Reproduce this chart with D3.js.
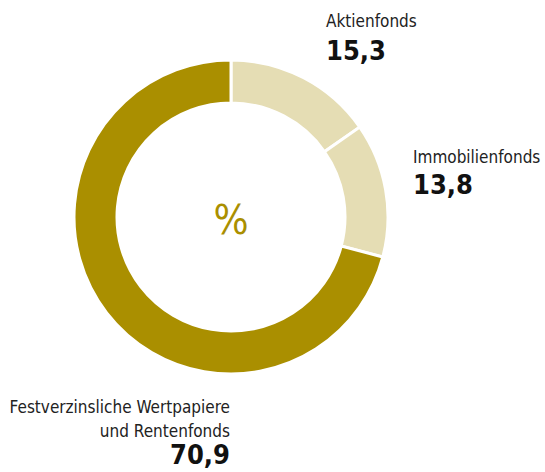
<!DOCTYPE html>
<html>
<head>
<meta charset="utf-8">
<script src="https://cdn.jsdelivr.net/npm/d3@7"></script>
<style>
  body { margin: 0; background: #fff; }
  svg { display: block; font-family: "DejaVu Sans Condensed", "DejaVu Sans", sans-serif; }
</style>
</head>
<body>
<svg id="chart" width="545" height="472"></svg>
<script>
const categories = ["Aktienfonds", "Immobilienfonds", "Festverzinsliche Wertpapiere und Rentenfonds"];
const values = [15.3, 13.8, 70.9];
const colors = ["#e5ddb4", "#e5ddb4", "#aa8f00"];

const width = 545;
const height = 472;
const cx = 231, cy = 217;
const outerR = 157, innerR = 114;

const svg = d3.select("#chart");
const g = svg.append("g").attr("transform", `translate(${cx},${cy})`);

const pie = d3.pie().sort(null).value(d => d.value);
const arc = d3.arc().innerRadius(innerR).outerRadius(outerR);

const slices = pie(categories.map((c, i) => ({ name: c, value: values[i] })));

g.selectAll("path")
    .data(slices)
    .enter()
    .append("path")
    .attr("d", arc)
    .attr("fill", (d, i) => colors[i])
    .attr("stroke", "#fff")
    .attr("stroke-width", 3);

g.append("text")
    .attr("text-anchor", "middle")
    .attr("y", 17)
    .attr("font-size", 41)
    .attr("fill", "#aa8f00")
    .text("%");

const fmt = v => String(v).replace(".", ",");

// labels
const labels = [
    { lines: ["Aktienfonds"], x: 326, y: 27, anchor: "start", vy: 60 },
    { lines: ["Immobilienfonds"], x: 413, y: 163, anchor: "start", vy: 194 },
    { lines: ["Festverzinsliche Wertpapiere", "und Rentenfonds"], x: 230, y: 413, anchor: "end", vy: 464 }
];

labels.forEach((l, i) => {
    l.lines.forEach((t, j) => {
        svg.append("text")
            .attr("x", l.x)
            .attr("y", l.y + j * 24)
            .attr("text-anchor", l.anchor)
            .attr("font-size", 17)
            .attr("fill", "#222")
            .text(t);
    });
    svg.append("text")
        .attr("x", l.x)
        .attr("y", l.vy)
        .attr("text-anchor", l.anchor)
        .attr("font-size", 27)
        .attr("font-weight", "bold")
        .attr("fill", "#111")
        .text(fmt(values[i]));
});
</script>
</body>
</html>
